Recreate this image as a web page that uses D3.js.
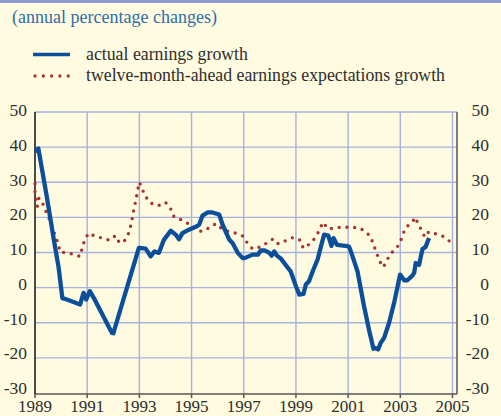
<!DOCTYPE html>
<html>
<head>
<meta charset="utf-8">
<script src="https://cdn.jsdelivr.net/npm/d3@7"></script>
<style>
  body { margin: 0; background: #fefbe0; }
  svg { display: block; }
  text { font-family: "Liberation Serif", Tinos, "Times New Roman", Times, "DejaVu Serif", serif; }
</style>
</head>
<body>
<div id="chart"></div>
<script>
// DATA (decimal year, annual % change)
const actualGrowth = [
  [1989.0, 38.8], [1989.13, 39.6], [1989.45, 26], [1989.7, 14.6], [1989.9, 6], [1990.05, -3],
  [1990.22, -3.4], [1990.73, -4.8], [1990.86, -1.5], [1990.96, -3.4], [1991.1, -1.0],
  [1991.25, -2.9], [1991.95, -12.9], [1992.0, -13], [1992.98, 11.3], [1993.24, 11.1],
  [1993.43, 8.9], [1993.58, 10.3], [1993.75, 9.9], [1993.94, 13.6], [1994.2, 16.2],
  [1994.39, 15.1], [1994.52, 13.8], [1994.65, 15.5], [1994.9, 16.5], [1995.16, 17.3],
  [1995.29, 17.9], [1995.42, 20.5], [1995.61, 21.4], [1995.8, 21.4], [1996.06, 20.8],
  [1996.19, 17.9], [1996.45, 13.6], [1996.57, 12.7], [1996.77, 9.9], [1996.96, 8.4],
  [1997.03, 8.4], [1997.34, 9.4], [1997.54, 9.4], [1997.66, 10.6], [1997.8, 10.6],
  [1997.98, 9.9], [1998.07, 9.1], [1998.17, 10.3], [1998.27, 9.1], [1998.43, 8.2],
  [1998.8, 4.6], [1999.0, 0.4], [1999.13, -2.0], [1999.29, -1.8], [1999.38, 0.9],
  [1999.5, 1.8], [1999.64, 4.6], [1999.83, 8.0], [1999.96, 11.8], [2000.08, 15.1],
  [2000.24, 14.8], [2000.36, 11.9], [2000.44, 14.1], [2000.57, 12.2], [2000.97, 11.8],
  [2001.04, 11.6], [2001.17, 8.9], [2001.36, 4.6], [2001.61, -5.3], [2001.8, -12],
  [2001.97, -17.4], [2002.06, -17.2], [2002.15, -17.6], [2002.25, -15.7], [2002.38, -14.3],
  [2002.57, -10], [2002.76, -4.4], [2002.99, 3.7], [2003.15, 2.1], [2003.27, 2.1],
  [2003.46, 3.4], [2003.53, 4.2], [2003.59, 7], [2003.72, 6.5], [2003.85, 11],
  [2003.97, 11.6], [2004.1, 14.1]
];

const expectedGrowth = [
  [1989.0, 29.6], [1989.0, 27.1], [1989.04, 24.7], [1989.09, 23.1], [1989.15, 25.5],
  [1989.3, 23.9], [1989.42, 21.7], [1989.55, 19.5], [1989.67, 17.2], [1989.77, 14.8],
  [1989.89, 12.5], [1989.96, 10.1], [1990.14, 10], [1990.41, 9.6], [1990.73, 8.9],
  [1990.8, 11.1], [1990.9, 13.5], [1991.05, 15.5], [1991.31, 14.6], [1991.59, 14.1],
  [1991.86, 13.5], [1992.09, 14.8], [1992.24, 12.7], [1992.46, 13.5], [1992.59, 15.5],
  [1992.68, 17.9], [1992.74, 20.3], [1992.8, 22.7], [1992.87, 25], [1992.93, 27.6],
  [1993.0, 30], [1993.1, 28.2], [1993.23, 26], [1993.42, 24.1], [1993.72, 23.3],
  [1994.0, 24.3], [1994.2, 22.4], [1994.33, 20.1], [1994.61, 19.3], [1994.9, 18.1],
  [1995.14, 16.7], [1995.38, 16], [1995.68, 17], [1995.93, 18.2], [1996.12, 17],
  [1996.4, 16], [1996.7, 15.5], [1996.99, 14.6], [1997.15, 12.5], [1997.34, 11],
  [1997.64, 11.6], [1997.92, 12.9], [1998.13, 13.9], [1998.32, 12.5], [1998.62, 13.4],
  [1998.9, 14.3], [1999.17, 13.5], [1999.28, 11.2], [1999.54, 12.5], [1999.73, 14.1],
  [1999.9, 16.3], [2000.03, 18.6], [2000.24, 16.7], [2000.5, 17], [2000.81, 17.3],
  [2001.08, 17.1], [2001.36, 17.1], [2001.64, 16.2], [2001.87, 14.4], [2001.97, 12.2],
  [2002.09, 10], [2002.19, 7.7], [2002.35, 5.8], [2002.5, 8], [2002.67, 10],
  [2002.83, 11], [2002.97, 12.5], [2003.08, 14.6], [2003.18, 16.9], [2003.42, 18.4],
  [2003.59, 20], [2003.65, 18.6], [2003.79, 16.7], [2003.94, 14.4], [2004.09, 15.9],
  [2004.32, 15.4], [2004.63, 14.6], [2004.89, 13.2]
];

const yearTicks = [1989, 1991, 1993, 1995, 1997, 1999, 2001, 2003, 2005];
const valueTicks = [50, 40, 30, 20, 10, 0, -10, -20, -30];
const seriesNames = ["actual earnings growth", "twelve-month-ahead earnings expectations growth"];
const chartTitle = "(annual percentage changes)";

// MARGIN CONVENTIONS
const outerWidth = 501;
const outerHeight = 416;
const margin = { top: 112, right: 44, bottom: 22, left: 35 };
const width = outerWidth - margin.left - margin.right;
const height = outerHeight - margin.top - margin.bottom;

const blue = "#0b4f9a";
const red = "#a8322f";
const gridColor = "#a7b2de";
const textColor = "#2e2e2e";

const svg = d3.select("#chart").append("svg")
  .attr("width", outerWidth)
  .attr("height", outerHeight);

// background + top band
svg.append("rect").attr("width", outerWidth).attr("height", outerHeight).attr("fill", "#fefbe0");
svg.append("rect").attr("width", outerWidth).attr("height", 3).attr("fill", "#8e9dcd");
svg.append("rect").attr("y", 3).attr("width", outerWidth).attr("height", 1.5).attr("fill", "#ffffff");

// title
svg.append("text")
  .attr("x", 12)
  .attr("y", 22.5)
  .attr("fill", "#2f6dab")
  .style("font-size", "18px")
  .text(chartTitle);

// legend
svg.append("line")
  .attr("x1", 33).attr("x2", 70)
  .attr("y1", 54.5).attr("y2", 54.5)
  .attr("stroke", blue)
  .attr("stroke-width", 3.5);
svg.append("line")
  .attr("x1", 35).attr("x2", 69)
  .attr("y1", 76).attr("y2", 76)
  .attr("stroke", red)
  .attr("stroke-width", 3.3)
  .attr("stroke-linecap", "round")
  .attr("stroke-dasharray", "0 8.3");
svg.selectAll(".legend-label")
  .data(seriesNames)
  .join("text")
  .attr("class", "legend-label")
  .attr("x", 86)
  .attr("y", (d, i) => 59.5 + i * 21)
  .attr("fill", textColor)
  .style("font-size", "17.8px")
  .text(d => d);

const g = svg.append("g")
  .attr("transform", `translate(${margin.left}, ${margin.top})`);

// scales
const x = d3.scaleLinear()
  .domain([1989, 2005])
  .range([0, 417.5]);

const y = d3.scaleLinear()
  .domain([-30, 50])
  .range([height - 1, 0]);

// tick labels sit a little tighter than the gridlines in the original
const yLabel = d3.scaleLinear()
  .domain([-30, 50])
  .range([height - 6, -2]);

// grid
g.selectAll(".hgrid")
  .data(valueTicks.filter(v => v > -30))
  .join("line")
  .attr("class", "hgrid")
  .attr("x1", 0).attr("x2", width)
  .attr("y1", d => y(d)).attr("y2", d => y(d))
  .attr("stroke", gridColor)
  .attr("stroke-width", 1.4);

g.selectAll(".vgrid")
  .data(yearTicks.slice(1))
  .join("line")
  .attr("class", "vgrid")
  .attr("x1", d => x(d)).attr("x2", d => x(d))
  .attr("y1", 0).attr("y2", height)
  .attr("stroke", gridColor)
  .attr("stroke-width", 1.4);

// axes frame
g.append("line")
  .attr("x1", 0).attr("x2", width)
  .attr("y1", height).attr("y2", height)
  .attr("stroke", "#555").attr("stroke-width", 1.5);
g.append("line")
  .attr("x1", 0).attr("x2", 0)
  .attr("y1", 0).attr("y2", height)
  .attr("stroke", "#111").attr("stroke-width", 1.5);
g.append("line")
  .attr("x1", width).attr("x2", width)
  .attr("y1", 0).attr("y2", height)
  .attr("stroke", "#555").attr("stroke-width", 1.5);

// x ticks + labels
g.selectAll(".xtick")
  .data(yearTicks)
  .join("line")
  .attr("class", "xtick")
  .attr("x1", d => x(d)).attr("x2", d => x(d))
  .attr("y1", height).attr("y2", height + 4)
  .attr("stroke", "#555").attr("stroke-width", 1.5);

g.selectAll(".xlabel")
  .data(yearTicks)
  .join("text")
  .attr("class", "xlabel")
  .attr("x", d => x(d))
  .attr("y", height + 18)
  .attr("text-anchor", "middle")
  .attr("fill", textColor)
  .style("font-size", "17px")
  .text(d => d);

// y labels, both sides
g.selectAll(".ylabel-left")
  .data(valueTicks)
  .join("text")
  .attr("class", "ylabel-left")
  .attr("x", -8)
  .attr("y", d => yLabel(d) + 6)
  .attr("text-anchor", "end")
  .attr("fill", textColor)
  .style("font-size", "17.5px")
  .text(d => d);

g.selectAll(".ylabel-right")
  .data(valueTicks)
  .join("text")
  .attr("class", "ylabel-right")
  .attr("x", 454)
  .attr("y", d => yLabel(d) + 6)
  .attr("text-anchor", "end")
  .attr("fill", textColor)
  .style("font-size", "17.5px")
  .text(d => d);

// lines
const line = d3.line()
  .x(d => x(d[0]))
  .y(d => y(d[1]));

g.append("path")
  .attr("d", line(expectedGrowth))
  .attr("fill", "none")
  .attr("stroke", red)
  .attr("stroke-width", 3.4)
  .attr("stroke-linecap", "round")
  .attr("stroke-dasharray", "0 7.8");

g.append("path")
  .attr("d", line(actualGrowth))
  .attr("fill", "none")
  .attr("stroke", blue)
  .attr("stroke-width", 4.3)
  .attr("stroke-linejoin", "round");
</script>
</body>
</html>
